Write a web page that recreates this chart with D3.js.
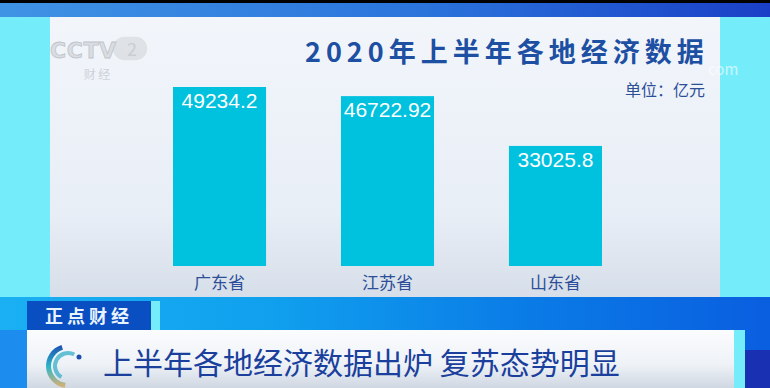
<!DOCTYPE html>
<html>
<head>
<meta charset="utf-8">
<script src="https://cdn.jsdelivr.net/npm/d3@7"></script>
<style>
	body { margin: 0; background: #000; }
	svg { display: block; font-family: "Noto Sans CJK SC", "Noto Sans", sans-serif; }
</style>
</head>
<body>
<svg id="svg" width="770" height="388"></svg>
<script>
"use strict";

// chart data
const provinces = ["广东省", "江苏省", "山东省"];
const gdpValues = [49234.2, 46722.92, 33025.8];
const titleText = "2020年上半年各地经济数据";
const unitText = "单位：亿元";
const programName = "正点财经";
const headline = "上半年各地经济数据出炉 复苏态势明显";

const svg = d3.select("#svg");
const defs = svg.append("defs");

// gradients
function linGrad(id, stops, x2, y2) {
	const g = defs
		.append("linearGradient")
		.attr("id", id)
		.attr("x1", "0%")
		.attr("y1", "0%")
		.attr("x2", x2)
		.attr("y2", y2);
	g.selectAll("stop")
		.data(stops)
		.enter()
		.append("stop")
		.attr("offset", (d) => d[0])
		.style("stop-color", (d) => d[1]);
}
linGrad("topStrip", [["0%", "#3f93e4"], ["55%", "#2a74dc"], ["100%", "#1a3fc6"]], "100%", "0%");
linGrad("panelBg", [["0%", "#f2f6fb"], ["70%", "#e8eef6"], ["100%", "#d6dee9"]], "0%", "100%");
linGrad("bandBg", [["0%", "#1ab0f2"], ["35%", "#10a0ee"], ["70%", "#0a7ae6"], ["100%", "#0a5ee0"]], "100%", "0%");
linGrad("whiteBar", [["0%", "#fbfcfe"], ["60%", "#eef2f7"], ["100%", "#cfd7e2"]], "0%", "100%");
linGrad("logoArc", [["0%", "#1b4fb0"], ["50%", "#2bb6c8"], ["100%", "#e0b070"]], "0%", "100%");

// frame
svg.append("rect").attr("width", 770).attr("height", 388).attr("fill", "#000");
svg.append("rect").attr("y", 3).attr("width", 770).attr("height", 14).attr("fill", "url(#topStrip)");
svg.append("rect").attr("x", 0).attr("y", 17).attr("width", 50).attr("height", 281).attr("fill", "#74ecfa");
svg.append("rect").attr("x", 720).attr("y", 17).attr("width", 50).attr("height", 281).attr("fill", "#74ecfa");
svg.append("rect").attr("x", 50).attr("y", 17).attr("width", 670).attr("height", 281).attr("fill", "url(#panelBg)");

// CCTV watermark
const logo = svg.append("g").attr("id", "cctvLogo").attr("opacity", 0.85);
logo.append("rect")
	.attr("x", 112).attr("y", 36).attr("width", 36).attr("height", 25).attr("rx", 12.5)
	.attr("fill", "#dcdfe3").attr("stroke", "#f4f5f7").attr("stroke-width", 1.5);
logo.append("text")
	.text("CCTV")
	.attr("x", 50).attr("y", 58)
	.style("font-family", "DejaVu Sans")
	.attr("font-size", 22).attr("font-weight", "bold")
	.attr("textLength", 66)
	.attr("fill", "#d6d9de").attr("stroke", "#b8bcc3").attr("stroke-width", 0.8);
logo.append("text")
	.text("2")
	.attr("x", 132).attr("y", 56)
	.attr("text-anchor", "middle")
	.attr("font-size", 18)
	.attr("fill", "#c4c8ce");
logo.append("text")
	.text("财  经")
	.attr("x", 97).attr("y", 79)
	.attr("text-anchor", "middle")
	.attr("font-size", 12)
	.attr("fill", "#c8ccd2");

// title and unit
svg.append("text")
	.text(titleText)
	.attr("x", 305).attr("y", 62)
	.attr("font-size", 27).attr("font-weight", "bold")
	.attr("letter-spacing", 5)
	.attr("fill", "#1d4fa2");
svg.append("text")
	.text("com")
	.attr("x", 708).attr("y", 75)
	.attr("font-size", 15)
	.attr("fill", "#ffffff").attr("opacity", 0.6);
svg.append("text")
	.text(unitText)
	.attr("x", 705).attr("y", 96)
	.attr("text-anchor", "end")
	.attr("font-size", 16)
	.attr("fill", "#2c4f98");

// bars
const x = d3.scaleBand().domain(provinces).range([173, 602]).paddingInner(0.446).paddingOuter(0);
const y = d3.scaleLinear().domain([0, d3.max(gdpValues)]).range([266, 87]);

const bars = svg
	.append("g")
	.attr("id", "bars")
	.selectAll("g")
	.data(provinces.map((p, i) => ({ name: p, value: gdpValues[i] })))
	.enter()
	.append("g");

bars.append("rect")
	.attr("x", (d) => x(d.name))
	.attr("y", (d) => y(d.value))
	.attr("width", x.bandwidth())
	.attr("height", (d) => y(0) - y(d.value))
	.attr("fill", "#00c1de");

bars.append("text")
	.text((d) => String(d.value))
	.attr("x", (d) => x(d.name) + x.bandwidth() / 2)
	.attr("y", (d) => y(d.value) + 21)
	.attr("text-anchor", "middle")
	.style("font-family", "'Liberation Sans', Arial, sans-serif")
	.attr("font-size", 21)
	.attr("fill", "#ffffff");

// category axis labels
const xAxis = svg
	.append("g")
	.attr("transform", "translate(0,266)")
	.call(d3.axisBottom(x).tickSize(0).tickPadding(11));
xAxis.select(".domain").remove();
xAxis.selectAll("text")
	.style("font-family", "'Noto Sans CJK SC'")
	.attr("font-size", 17)
	.attr("fill", "#2c4f98");

// bottom banner
svg.append("rect").attr("y", 297).attr("width", 770).attr("height", 91).attr("fill", "url(#bandBg)");
svg.append("rect").attr("x", 0).attr("y", 330).attr("width", 27).attr("height", 58).attr("fill", "#1c8cef");
svg.append("rect").attr("x", 745).attr("y", 350).attr("width", 25).attr("height", 38).attr("fill", "#1a30b2");
svg.append("rect").attr("x", 27).attr("y", 301).attr("width", 124).attr("height", 29).attr("fill", "#0a4fc2");
svg.append("rect").attr("x", 151).attr("y", 301).attr("width", 9).attr("height", 29).attr("fill", "#74ecfa");
svg.append("text")
	.text(programName)
	.attr("x", 45).attr("y", 323)
	.attr("font-size", 18).attr("font-weight", "bold")
	.attr("letter-spacing", 4)
	.attr("fill", "#eaf4ff");
svg.append("rect").attr("x", 27).attr("y", 330).attr("width", 707).attr("height", 58).attr("fill", "url(#whiteBar)");
svg.append("rect").attr("x", 734).attr("y", 330).attr("width", 11).attr("height", 58).attr("fill", "#74ecfa");

// round emblem in the banner
const arc = d3.arc();
const emblem = svg.append("g").attr("transform", "translate(68,366)");
emblem.append("path")
	.attr("d", arc({ innerRadius: 17, outerRadius: 22, startAngle: -0.3, endAngle: -3.0 }))
	.attr("fill", "url(#logoArc)");
emblem.append("path")
	.attr("d", arc({ innerRadius: 11, outerRadius: 15, startAngle: 0.5, endAngle: -2.6 }))
	.attr("fill", "#2aa9c4").attr("opacity", 0.7);
emblem.append("circle").attr("cx", 11).attr("cy", -9).attr("r", 2.5).attr("fill", "#1b4fb0");

svg.append("text")
	.text(headline)
	.attr("x", 103).attr("y", 374)
	.attr("font-size", 30)
	.attr("fill", "#1a3f9c");
</script>
</body>
</html>
